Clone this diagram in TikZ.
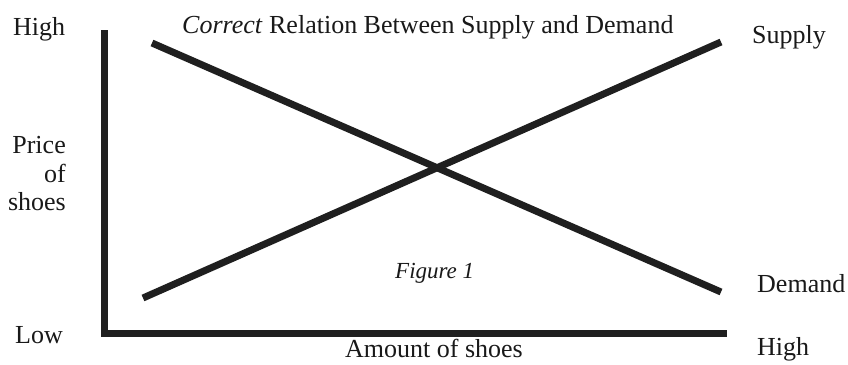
\documentclass[tikz,border=0pt]{standalone}
\usepackage{fontspec}
\setmainfont{Liberation Serif}
\begin{document}
\begin{tikzpicture}[x=1pt,y=-1pt,
  lbl/.style={inner sep=0pt,font=\fontsize{26}{28}\selectfont,text=black!90},
  thickline/.style={line width=7pt,draw=black!88,line cap=butt}]
\useasboundingbox[fill=white] (0,0) rectangle (848,364);
% axes
\coordinate (ytop) at (104.5,30);
\coordinate (origin) at (104.5,333);
\coordinate (xend) at (727,333);
\draw[thickline,line join=miter] (ytop) -- (origin) -- (xend);
% supply and demand
\coordinate (s1) at (143,298);
\coordinate (s2) at (721,42);
\coordinate (d1) at (152,43);
\coordinate (d2) at (721,292);
\draw[thickline] (s1) -- (s2);
\draw[thickline] (d1) -- (d2);
% labels
\node[lbl,anchor=base west] (high1) at (13,35) {High};
\node[lbl,anchor=base west] (low) at (15,343) {Low};
\node[lbl,anchor=base east] (price) at (66,153) {Price};
\node[lbl,anchor=base east] (of) at (66,182) {of};
\node[lbl,anchor=base east] (shoes) at (66,210) {shoes};
\node[lbl,anchor=base west] (title) at (182,33) {\textit{Correct} Relation Between Supply and Demand};
\node[lbl,anchor=base west] (supply) at (752,43) {Supply};
\node[lbl,anchor=base west] (demand) at (757,292) {Demand};
\node[lbl,anchor=base west] (high2) at (757,355) {High};
\node[lbl,anchor=base] (amount) at (434,357) {Amount of shoes};
\node[lbl,anchor=base west,font=\fontsize{23}{25}\selectfont\itshape] (fig) at (395,278) {Figure 1};
\end{tikzpicture}
\end{document}
